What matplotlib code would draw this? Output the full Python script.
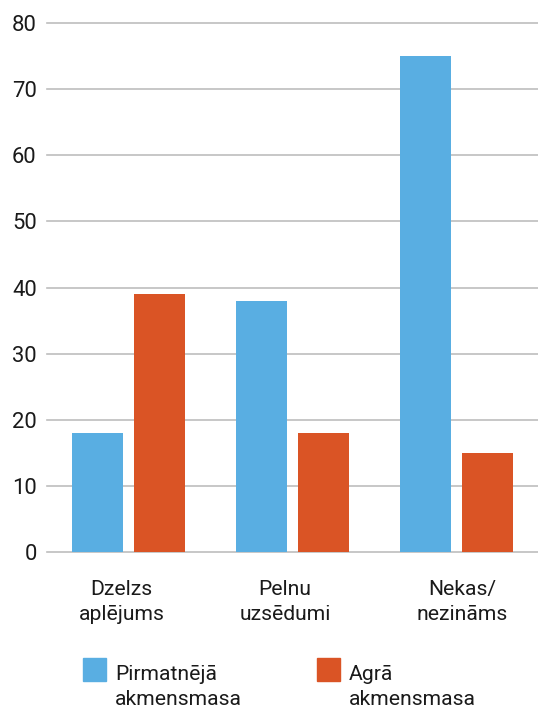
import numpy as np
import matplotlib.pyplot as plt
from matplotlib.patches import Rectangle

plt.rcParams['font.family'] = ['Roboto', 'DejaVu Sans']

categories = ['Dzelzs\naplējums', 'Pelnu\nuzsēdumi', 'Nekas/\nnezināms']
series_names = ['Pirmatnējā\nakmensmasa', 'Agrā\nakmensmasa']
primitive = [18, 38, 75]
early = [39, 18, 15]
yticks = [0, 10, 20, 30, 40, 50, 60, 70, 80]

blue = '#59AEE2'
orange = '#DA5425'
grid_col = '#BDBDBD'
fs = 15.2

fig = plt.figure(figsize=(5.38, 7.09), dpi=100)
ax = fig.add_axes([47 / 538, 1 - 552 / 709, 1 - 47 / 538, (552 - 23) / 709])

x = np.arange(len(categories))
w = 0.311
off = 0.189
ax.bar(x - off, primitive, width=w, color=blue, zorder=3)
ax.bar(x + off, early, width=w, color=orange, zorder=3)

ax.set_xlim(-0.5, 2.5)
ax.set_ylim(0, 80)
ax.set_yticks(yticks)
ax.yaxis.grid(True, color=grid_col, linewidth=1.2, zorder=0)
for gl in ax.get_ygridlines():
    gl.set_clip_on(False)
for s in ax.spines.values():
    s.set_visible(False)
ax.tick_params(axis='y', length=0, pad=7.4, labelsize=15.8, labelcolor='#1a1a1a')

# category labels sit slightly off the group centres in the original
label_shift = [-0.045, -0.045, 0.036]
ax.set_xticks(x + np.array(label_shift))
ax.set_xticklabels(categories, fontsize=fs, color='#1a1a1a', linespacing=1.42)
ax.tick_params(axis='x', length=0, pad=20)

# legend drawn by hand so the swatch lines up with the first text line
leg_x = [83, 317]
for i, (name, col) in enumerate(zip(series_names, [blue, orange])):
    px = leg_x[i]
    fig.add_artist(Rectangle((px / 538, 1 - 681 / 709), 23 / 538, 23 / 709,
                             transform=fig.transFigure, color=col))
    fig.text((px + 32) / 538, 1 - 705 / 709, name, fontsize=fs, color='#1a1a1a',
             va='baseline', ha='left', linespacing=1.42)

fig.savefig('out.png', dpi=100)
